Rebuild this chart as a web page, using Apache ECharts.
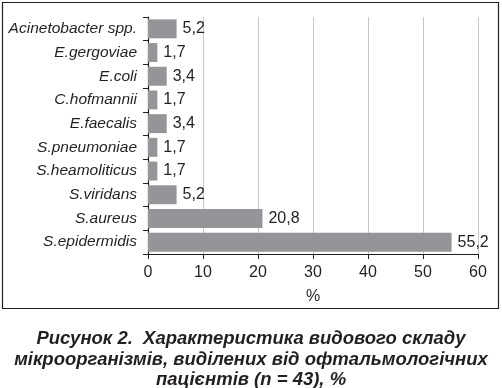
<!DOCTYPE html>
<html><head><meta charset="utf-8">
<script src="https://cdn.jsdelivr.net/npm/echarts@6/dist/echarts.min.js"></script>
<style>html,body{margin:0;padding:0;background:#fff}#c{width:502px;height:388px}</style>
</head><body><div id="c"></div>
<script>
const categories = ['Acinetobacter spp.','E.gergoviae','E.coli','C.hofmannii','E.faecalis','S.pneumoniae','S.heamoliticus','S.viridans','S.aureus','S.epidermidis'];
const values = [5.2,1.7,3.4,1.7,3.4,1.7,1.7,5.2,20.8,55.2];
const xTicks = [0,10,20,30,40,50,60];
const caption = ['Рисунок 2.  Характеристика видового складу','мікроорганізмів, виділених від офтальмологічних','пацієнтів (n = 43), %'];
const chart = echarts.init(document.getElementById('c'), null, {renderer:'canvas'});
const font = 'Liberation Sans, Arial, sans-serif';
chart.setOption({
  animation:false,
  title:{text:caption.join('\n'),left:'center',top:324,textStyle:{fontFamily:font,fontSize:18.5,fontWeight:'bold',fontStyle:'italic',color:'#231f20',lineHeight:20.5}},
  graphic:[{type:'rect',shape:{x:2.5,y:2.5,width:496,height:306},style:{fill:null,stroke:'#231f20',lineWidth:1.2},silent:true}],
  grid:{left:148,right:24,top:17,bottom:134,containLabel:false},
  xAxis:{type:'value',min:xTicks[0],max:xTicks[xTicks.length-1],interval:10,name:'%',nameLocation:'middle',nameGap:35,
    nameTextStyle:{fontFamily:font,fontSize:16,color:'#231f20'},
    axisLine:{show:true,lineStyle:{color:'#231f20',width:1.2}},axisTick:{show:true,length:5,lineStyle:{color:'#231f20'}},
    axisLabel:{fontFamily:font,fontSize:16,color:'#231f20',margin:11},
    splitLine:{show:true,lineStyle:{color:'#c8c8c8',width:1}}},
  yAxis:{type:'category',data:categories,inverse:true,
    axisLine:{show:true,lineStyle:{color:'#231f20',width:1.2}},axisTick:{show:true,length:5,lineStyle:{color:'#231f20'}},
    axisLabel:{fontFamily:font,fontSize:15.5,fontStyle:'italic',color:'#231f20',margin:11}},
  series:[{type:'bar',data:values,barCategoryGap:'20%',itemStyle:{color:'#939598'},
    label:{show:true,position:'right',distance:6,fontFamily:font,fontSize:16,color:'#231f20',
      formatter:p=>String(p.value).replace('.',',')}}]
});
</script></body></html>
